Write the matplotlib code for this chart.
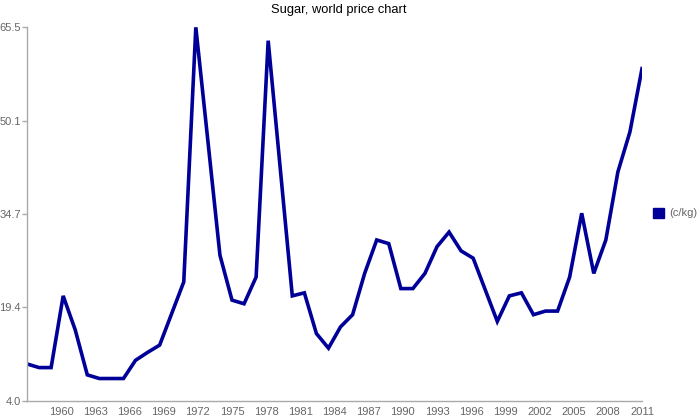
import matplotlib
matplotlib.use("Agg")
import matplotlib.pyplot as plt
from matplotlib.patches import Patch
import numpy as np

plt.rcParams['font.family'] = ['Liberation Sans', 'DejaVu Sans']

title = "Sugar, world price chart"
series_label = "(c/kg)"

# world sugar price, c/kg (52 evenly spaced points)
prices = [10.1, 9.5, 9.5, 21.3, 15.7, 8.3, 7.7, 7.7, 7.7, 10.7,
          12.0, 13.2, 18.4, 23.6, 65.5, 46.8, 28.0, 20.6, 20.0, 24.4,
          63.3, 42.3, 21.3, 21.8, 15.1, 12.7, 16.2, 18.2, 25.0, 30.5,
          29.9, 22.5, 22.5, 25.0, 29.4, 31.8, 28.7, 27.5, 22.3, 17.1,
          21.3, 21.8, 18.2, 18.8, 18.8, 24.4, 34.9, 25.0, 30.5, 41.7,
          48.3, 58.7]

axis_start_year = 1957
axis_end_year = 2011
x_label_years = list(range(1960, 2012, 3))

y_ticks = [4.0, 19.4, 34.7, 50.1, 65.5]
y_tick_labels = ["4.0", "19.4", "34.7", "50.1", "65.5"]

line_color = "#000099"
grey = "#666666"
axis_grey = "#aaaaaa"

fig = plt.figure(figsize=(7, 4.2), dpi=100)
ax = fig.add_axes([27/700, 19/420, (642-27)/700, (401-27.3)/420])

x = np.arange(len(prices))
ax.plot(x, prices, color=line_color, lw=2.6, solid_joinstyle='miter')

n = len(prices) - 1
ax.set_xlim(0, n)
ax.set_ylim(y_ticks[0], y_ticks[-1])

tick_pos = [(yr - axis_start_year) / (axis_end_year - axis_start_year) * n for yr in x_label_years]
ax.set_xticks(tick_pos)
ax.set_xticklabels([str(yr) for yr in x_label_years])
ax.set_yticks(y_ticks)
ax.set_yticklabels(y_tick_labels)

ax.tick_params(axis='x', length=0, pad=4, labelsize=8, labelcolor=grey)
ax.tick_params(axis='y', length=3.6, width=1, color=axis_grey, pad=1, labelsize=8, labelcolor=grey)

for side in ['top', 'right']:
    ax.spines[side].set_visible(False)
for side in ['left', 'bottom']:
    ax.spines[side].set_color(axis_grey)
    ax.spines[side].set_linewidth(1)

fig.text(339/700, 1 - 10/420, title, ha='center', va='center', fontsize=9.3, color='black')

handle = Patch(facecolor=line_color, edgecolor=line_color)
fig.legend([handle], [series_label], loc='center left',
           bbox_to_anchor=(653/700, 1 - 213/420), frameon=False,
           handlelength=1.0, handleheight=1.0, handletextpad=0.45,
           fontsize=8, labelcolor=grey, borderpad=0, borderaxespad=0)

fig.savefig("out.png", dpi=100)
